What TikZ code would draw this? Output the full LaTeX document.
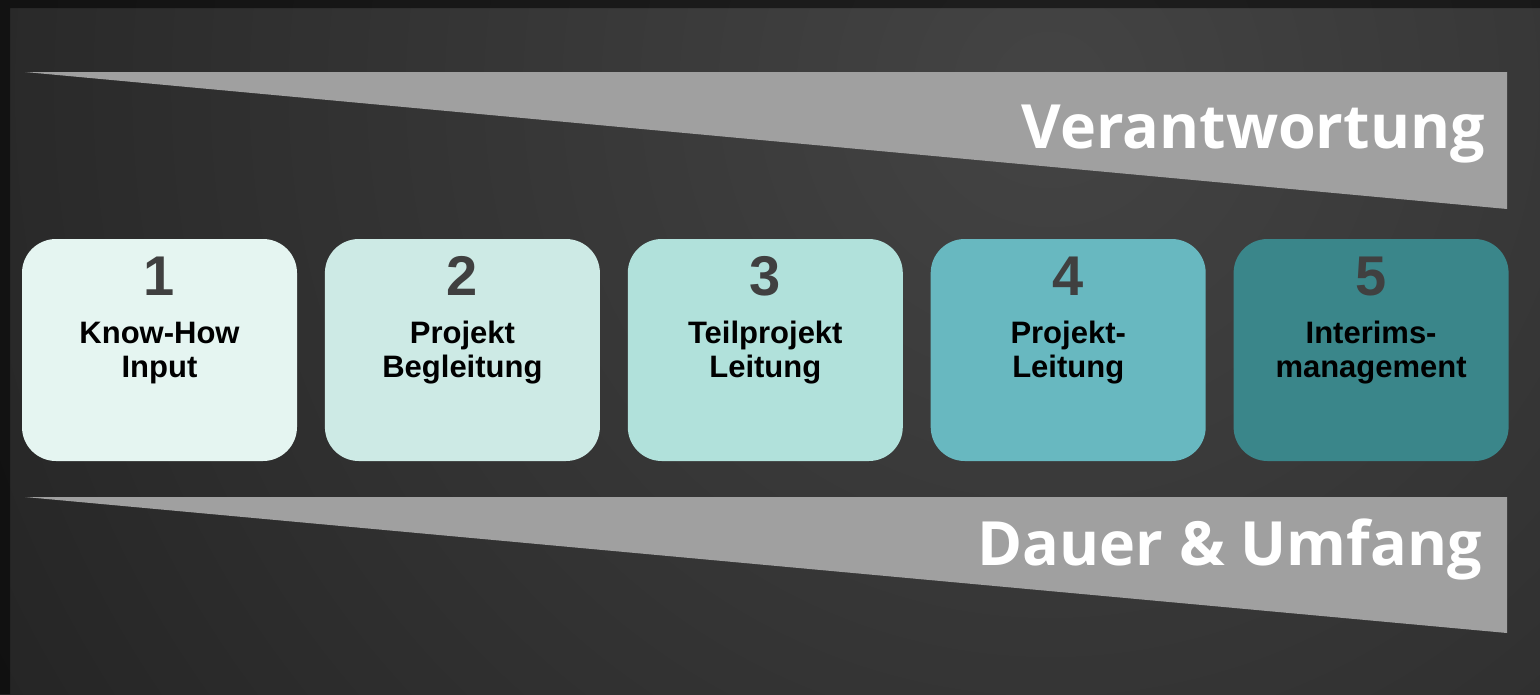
\documentclass[tikz,border=0pt]{standalone}
\usepackage{fontspec}
\setmainfont{Liberation Sans}
\newfontfamily\titlefont{Open Sans}
\usetikzlibrary{positioning}
\definecolor{bgdark}{RGB}{36,36,36}
\definecolor{bglight}{RGB}{68,68,68}
\definecolor{wedgegray}{RGB}{160,160,160}
\definecolor{numgray}{RGB}{64,64,64}
\definecolor{stageA}{RGB}{229,245,241}
\definecolor{stageB}{RGB}{205,234,229}
\definecolor{stageC}{RGB}{177,225,219}
\definecolor{stageD}{RGB}{104,184,192}
\definecolor{stageE}{RGB}{58,134,138}

\begin{document}
\begin{tikzpicture}[x=1pt, y=-1pt,
    node distance=27.5pt,
    stage/.style={rectangle, rounded corners=34pt, minimum width=275pt, minimum height=222pt, inner sep=0pt},
    num/.style={anchor=base, inner sep=0pt, text=numgray, font=\bfseries\fontsize{56}{56}\selectfont},
    stagetext/.style={anchor=base, inner sep=0pt, align=center, font=\bfseries\fontsize{31}{34}\selectfont},
    title/.style={anchor=base east, inner sep=0pt, text=white, font=\titlefont\bfseries\fontsize{61}{61}\selectfont}
]
    % Background
    \useasboundingbox (0,0) rectangle (1540,694);
    \begin{scope}
        \clip (0,0) rectangle (1540,694);
        \shade[inner color=bglight, outer color=bgdark] (1050,90) circle (1250);
    \end{scope}
    \fill[black, opacity=0.55] (0,0) rectangle (1540,8) (0,8) rectangle (10,694);

    % Wedges
    \fill[wedgegray] (25,72) -- (1507,72) -- (1507,209) -- cycle;
    \fill[wedgegray] (25,497) -- (1507,497) -- (1507,633) -- cycle;
    \node[title] (verant) at (1485,148) {Verantwortung};
    \node[title] (umfang) at (1482,565) {Dauer \& Umfang};

    % Stages
    \node[stage, fill=stageA] (knowhow) at (159.5,350) {};
    \node[stage, fill=stageB, right=of knowhow] (begleitung) {};
    \node[stage, fill=stageC, right=of begleitung] (teilprojekt) {};
    \node[stage, fill=stageD, right=of teilprojekt] (projekt) {};
    \node[stage, fill=stageE, right=of projekt] (interim) {};

    \foreach \s/\n/\t in {knowhow/1/{Know-How\\Input}, begleitung/2/{Projekt\\Begleitung},
        teilprojekt/3/{Teilprojekt\\Leitung}, projekt/4/{Projekt-\\Leitung}, interim/5/{Interims-\\management}} {
        \node[num] (\s-num) at ([yshift=-57pt]\s.north) {\n};
        \node[stagetext] (\s-text) at ([yshift=-139pt]\s.north) {\t};
    }
\end{tikzpicture}
\end{document}
